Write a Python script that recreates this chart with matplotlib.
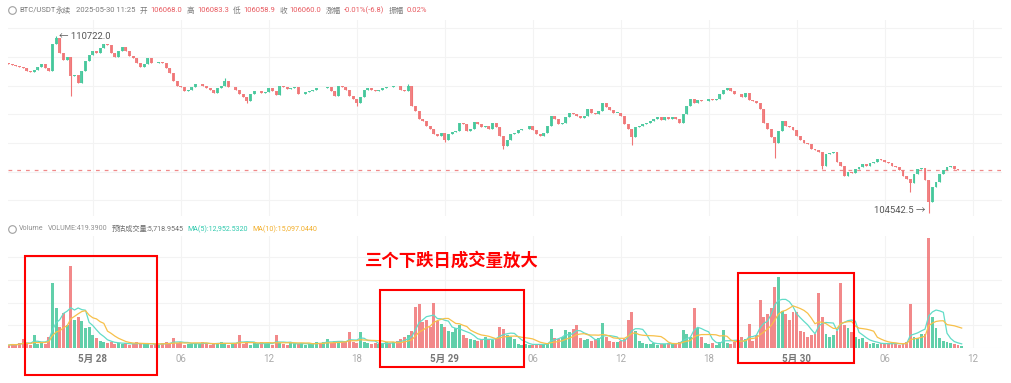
import pandas as pd
import numpy as np
import matplotlib.pyplot as plt
import matplotlib.dates as mdates
from matplotlib.patches import Rectangle
from matplotlib.lines import Line2D

plt.rcParams['font.family'] = ['Roboto', 'Noto Sans CJK SC', 'DejaVu Sans']

# 15-minute candles, BTC/USDT perpetual
start_time = '2025-05-27 18:15'
closes = [
    109760, 109720, 109700, 109650, 109600, 109520, 109480, 109540, 109640, 109760,
    109620, 109520, 110450, 110650, 110150, 109900, 110000, 109350, 109370, 109080,
    109500, 109850, 110070, 110200, 110150, 110300, 110450, 110400, 110150, 110000,
    110200, 110350, 110200, 110050, 109950, 109780, 109650, 109750, 109950, 109800,
    109780, 109820, 109800, 109600, 109450, 109150, 109000, 108950, 108800, 108850,
    108950, 109050, 109050, 109000, 108900, 108850, 108750, 108900, 109000, 109150,
    108950, 108950, 108850, 108700, 108600, 108450, 108700, 108800, 108820, 108750,
    108780, 108900, 108800, 108680, 109000, 108950, 108880, 108920, 108950, 108700,
    108700, 108780, 108800, 108850, 108920, 108900, 108930, 108950, 108800, 108620,
    109000, 108950, 108850, 108650, 108550, 108400, 108600, 108850, 108900, 108850,
    108820, 108850, 108900, 108960, 108950, 109000, 108980, 108850, 108800, 109000,
    108300, 108100, 107850, 107750, 107600, 107500, 107300, 107250, 107350, 107100,
    107300, 107380, 107400, 107700, 107650, 107400, 107500, 107720, 107650, 107550,
    107600, 107500, 107680, 107550, 107250, 106900, 107100, 107300, 107350, 107450,
    107480, 107500, 107580, 107450, 107300, 107250, 107350, 107600, 107950, 107850,
    107650, 107700, 107900, 108050, 108000, 107950, 107880, 107950, 108200, 108050,
    108000, 108100, 108400, 108250, 108150, 108050, 108050, 107950, 107650, 107500,
    107200, 107550, 107600, 107650, 107700, 107750, 107850, 107900, 107800, 107900,
    107850, 107900, 107850, 107700, 108000, 108300, 108550, 108400, 108500, 108450,
    108450, 108550, 108500, 108550, 108700, 108850, 108900, 108800, 108700, 108700,
    108600, 108750, 108500, 108480, 108400, 108200, 107700, 107500, 107200, 107000,
    107400, 107750, 107600, 107550, 107450, 107250, 107100, 107000, 106950, 106800,
    106750, 106700, 106200, 106600, 106650, 106700, 106350, 106200, 105850, 106000,
    105950, 106100, 106150, 106250, 106200, 106300, 106350, 106450, 106400, 106350,
    106300, 106200, 106150, 106050, 105850, 105750, 105600, 105900, 106100, 106120,
    105700, 104950, 105450, 105650, 105900, 106050, 106150, 106180, 106100, 106050, 106060,
]
first_open = 109780
# long wicks that stick out of the bodies
wick_high = {13: 110722.0, 59: 109280, 109: 109060}
wick_low = {17: 108650, 65: 108400, 95: 108300, 119: 107040, 135: 106800,
            170: 106930, 209: 106470, 222: 106100, 246: 105300, 251: 104542.5}

# volume (thousands)
volumes = [
    10, 14, 11, 16, 33, 14, 12, 45, 15, 20,
    14, 40, 230, 140, 74, 124, 80, 290, 100, 110,
    95, 70, 75, 45, 35, 25, 22, 18, 20, 15,
    18, 14, 16, 12, 15, 20, 14, 13, 16, 12,
    14, 12, 18, 22, 15, 35, 16, 20, 12, 14,
    15, 18, 14, 20, 16, 12, 14, 18, 22, 15,
    12, 16, 18, 45, 14, 18, 12, 16, 14, 20,
    14, 18, 12, 45, 16, 14, 12, 16, 18, 14,
    16, 12, 14, 18, 20, 15, 22, 32, 18, 24,
    20, 22, 25, 55, 20, 18, 58, 20, 16, 14,
    16, 14, 18, 20, 16, 22, 25, 30, 40, 45,
    60, 145, 156, 90, 100, 75, 158, 95, 85, 75,
    60, 55, 70, 80, 45, 35, 30, 28, 25, 30,
    40, 30, 28, 35, 74, 68, 45, 40, 30, 15,
    12, 14, 10, 12, 15, 12, 14, 16, 68, 35,
    30, 40, 65, 55, 68, 80, 35, 28, 30, 25,
    30, 35, 88, 40, 25, 20, 22, 25, 30, 97,
    127, 60, 25, 18, 15, 14, 18, 12, 15, 14,
    16, 14, 18, 20, 62, 50, 40, 142, 70, 40,
    18, 14, 16, 12, 20, 62, 18, 15, 20, 22,
    40, 30, 83, 25, 45, 170, 110, 120, 140, 215,
    250, 130, 120, 100, 127, 125, 60, 55, 40, 45,
    50, 194, 110, 50, 40, 45, 60, 227, 80, 70,
    55, 40, 30, 35, 20, 15, 18, 14, 16, 15,
    14, 16, 18, 12, 15, 20, 156, 40, 35, 50,
    50, 388, 110, 70, 35, 25, 20, 18, 15, 12, 8,
]

last_price = 106060.0
tick_labels = ['5月 28', '06', '12', '18', '5月 29', '06', '12', '18', '5月 30', '06', '12']

# red boxes + note
box_starts = ['2025-05-27 19:23', '2025-05-28 19:36', '2025-05-29 20:00']
box_ends = ['2025-05-28 04:23', '2025-05-29 05:24', '2025-05-30 03:54']
box_lows = [-95, -67, -53]
box_highs = [323, 204, 264]
note = '三个下跌日成交量放大'

# build OHLC
df = pd.DataFrame({'close': closes, 'vol': volumes})
df['time'] = pd.date_range(start_time, periods=len(df), freq='15min')
df['open'] = df['close'].shift(1).fillna(first_open)
df['high'] = df[['open', 'close']].max(axis=1)
df['low'] = df[['open', 'close']].min(axis=1)
for k, v in wick_high.items():
    df.loc[k, 'high'] = v
for k, v in wick_low.items():
    df.loc[k, 'low'] = v
df['ma5'] = df['vol'].rolling(5, min_periods=1).mean()
df['ma10'] = df['vol'].rolling(10, min_periods=1).mean()
x = mdates.date2num(df['time'].dt.to_pydatetime())
up = df['close'] >= df['open']

GREEN = '#45c79b'
RED = '#f07576'
W, H = 1011, 383

fig = plt.figure(figsize=(W / 100, H / 100), dpi=100)
ax = fig.add_axes([8 / W, 1 - 216 / H, 994 / W, 196 / H])
axv = fig.add_axes([8 / W, 1 - 348 / H, 994 / W, 112 / H], sharex=ax)

# candles
step = 1 / 96
colors = np.where(up, GREEN, RED)
ax.vlines(x, df['low'], df['high'], colors=colors, lw=0.8, zorder=2)
body = (df['close'] - df['open']).abs().clip(lower=12)
ax.bar(x, body, bottom=df[['open', 'close']].min(axis=1), width=step * 0.8,
       color=colors, alpha=0.9, zorder=3)
ax.axhline(last_price, color='#f08a8a', lw=0.9, ls=(0, (3, 4)), zorder=1)

imax = df['high'].idxmax()
imin = df['low'].idxmin()
ax.annotate('← %.1f' % df.loc[imax, 'high'], (x[imax], df.loc[imax, 'high']),
            xytext=(2, 0), textcoords='offset points', ha='left', va='center',
            fontsize=6.8, color='#555555')
ax.annotate('%.1f →' % df.loc[imin, 'low'], (x[imin], df.loc[imin, 'low']),
            xytext=(-2, 2), textcoords='offset points', ha='right', va='center',
            fontsize=6.8, color='#555555')

ax.set_ylim(104449, 111290)
ax.set_yticks(np.arange(105000, 111001, 1000))

# volume
axv.bar(x, df['vol'], width=step * 0.8, color=colors, alpha=0.85, zorder=2)
axv.plot(x, df['ma5'], color='#62dcc8', lw=0.9, zorder=3)
axv.plot(x, df['ma10'], color='#f7c04a', lw=0.9, zorder=3)
axv.set_ylim(0, 394)
axv.set_yticks([0, 80, 160, 240, 320])

ticks = mdates.date2num(pd.date_range('2025-05-28 00:00', periods=len(tick_labels), freq='6h').to_pydatetime())
axv.set_xticks(ticks)
axv.set_xticklabels(tick_labels)
for lab in axv.get_xticklabels():
    if '月' in lab.get_text():
        lab.set_color('#777777')
        lab.set_fontweight('bold')
    else:
        lab.set_color('#aaaaaa')
axv.set_xlim(mdates.date2num(pd.Timestamp('2025-05-27 18:13')),
             mdates.date2num(pd.Timestamp('2025-05-30 14:00')))

for a in (ax, axv):
    a.grid(True, color='#f3f3f3', lw=0.8, zorder=0)
    a.set_axisbelow(True)
    for s in a.spines.values():
        s.set_visible(False)
    a.tick_params(length=0, labelleft=False)
ax.tick_params(labelbottom=False)
axv.tick_params(axis='x', labelsize=7, pad=4)

# boxes and note
for s, e, lo, hi in zip(box_starts, box_ends, box_lows, box_highs):
    x0 = mdates.date2num(pd.Timestamp(s))
    x1 = mdates.date2num(pd.Timestamp(e))
    axv.add_patch(Rectangle((x0, lo), x1 - x0, hi - lo, fill=False, ec='#ff0000',
                            lw=1.5, clip_on=False, zorder=5))
axv.text(mdates.date2num(pd.Timestamp('2025-05-29 00:30')), 306, note, color='#ff0000',
         fontsize=12.5, fontweight='bold', ha='center', va='center',
         family=['Noto Sans CJK SC'])

# header lines: pieces set one after another, font scaled so the row
# spans the same pixels as in the screenshot
renderer = fig.canvas.get_renderer()

def text_row(items, px0, px1, py, base=7.0):
    texts = [fig.text(0, 1 - py / H, s, color=c, fontsize=base * rel, va='center', ha='left')
             for s, c, gap, rel in items]
    widths = sum(t.get_window_extent(renderer=renderer).width for t in texts)
    gaps = sum(it[2] for it in items)
    k = (px1 - px0 - gaps) / widths
    px = px0
    for t, (s, c, gap, rel) in zip(texts, items):
        t.set_fontsize(base * rel * k)
        t.set_x(px / W)
        px = t.get_window_extent(renderer=renderer).x1 + gap

GREY = '#7a7a7a'
VAL = '#e85a60'
header = [('BTC/USDT', GREY, 0, 1), ('永续', GREY, 5, 1), ('2025-05-30 11:25', GREY, 5, 1),
          ('开', GREY, 3, 1), ('106068.0', VAL, 4, 1),
          ('高', GREY, 3, 1), ('106083.3', VAL, 4, 1),
          ('低', GREY, 3, 1), ('106058.9', VAL, 4, 1),
          ('收', GREY, 3, 1), ('106060.0', VAL, 4, 1),
          ('涨幅', GREY, 3, 1), ('-0.01%(-6.8)', VAL, 4, 1),
          ('振幅', GREY, 3, 1), ('0.02%', VAL, 0, 1)]
text_row(header, 19, 428, 10)

vol_header = [('Volume', '#8f8f8f', 4, 1), ('VOLUME:419.3900', '#8f8f8f', 4, 1),
              ('预估成交量', '#6f6f6f', 0, 1), (':5,718.9545', '#6f6f6f', 4, 1),
              ('MA(5):12,952.5320', '#2fc9ad', 4, 1),
              ('MA(10):15,097.0440', '#f2ae2a', 0, 1)]
text_row(vol_header, 19, 322, 229)

for py in (10, 229):
    fig.add_artist(Line2D([11.5 / W], [1 - py / H], marker='o', markersize=5.5, mfc='none',
                          mec='#a0a0a0', mew=0.8, transform=fig.transFigure))

fig.savefig('out.png', dpi=100, facecolor='white')
